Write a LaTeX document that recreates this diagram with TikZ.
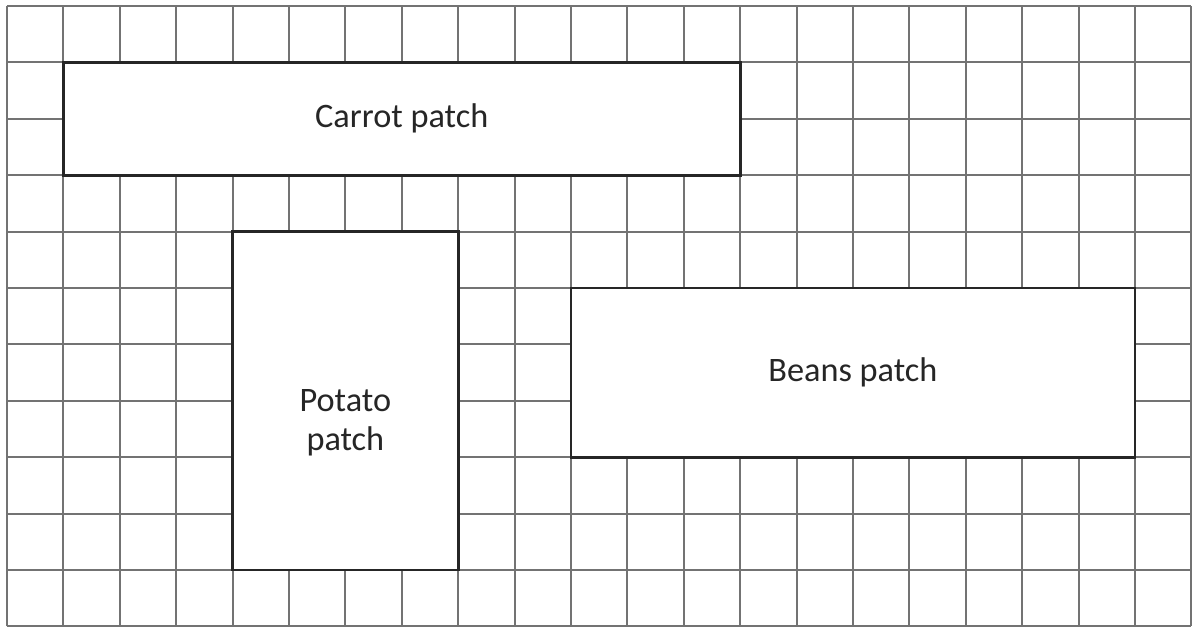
\documentclass[tikz,border=0pt]{standalone}
\usepackage{fontspec}
\setmainfont{Carlito}
\usetikzlibrary{positioning}

\tikzset{
  patch/.style = {draw=black!85, line width=1.4pt, fill=white, inner sep=0pt},
  bedtext/.style = {font=\fontsize{17.3}{20}\selectfont, align=center, text=black!85}
}

\begin{document}
\begin{tikzpicture} [x = 1cm, y = 1cm]
\useasboundingbox (-0.124,0) rectangle (21.03,11.106);
\draw [black!55, line width=1pt] (0,0) grid (21,11);
\node (carrot) [patch, minimum width = 12cm, minimum height = 2cm] at (7,9) {};
\node (potato) [patch, minimum width = 4cm, minimum height = 6cm] at (6,4) {};
\node (beans) [patch, minimum width = 10cm, minimum height = 3cm] at (15,4.5) {};
\node (carrottxt) [bedtext] at (carrot.center) {Carrot patch};
\node (potatotxt) [bedtext, yshift = -0.39cm] at (potato.center) {Potato\\patch};
\node (beanstxt) [bedtext] at (beans.center) {Beans patch};
\end{tikzpicture}
\end{document}
